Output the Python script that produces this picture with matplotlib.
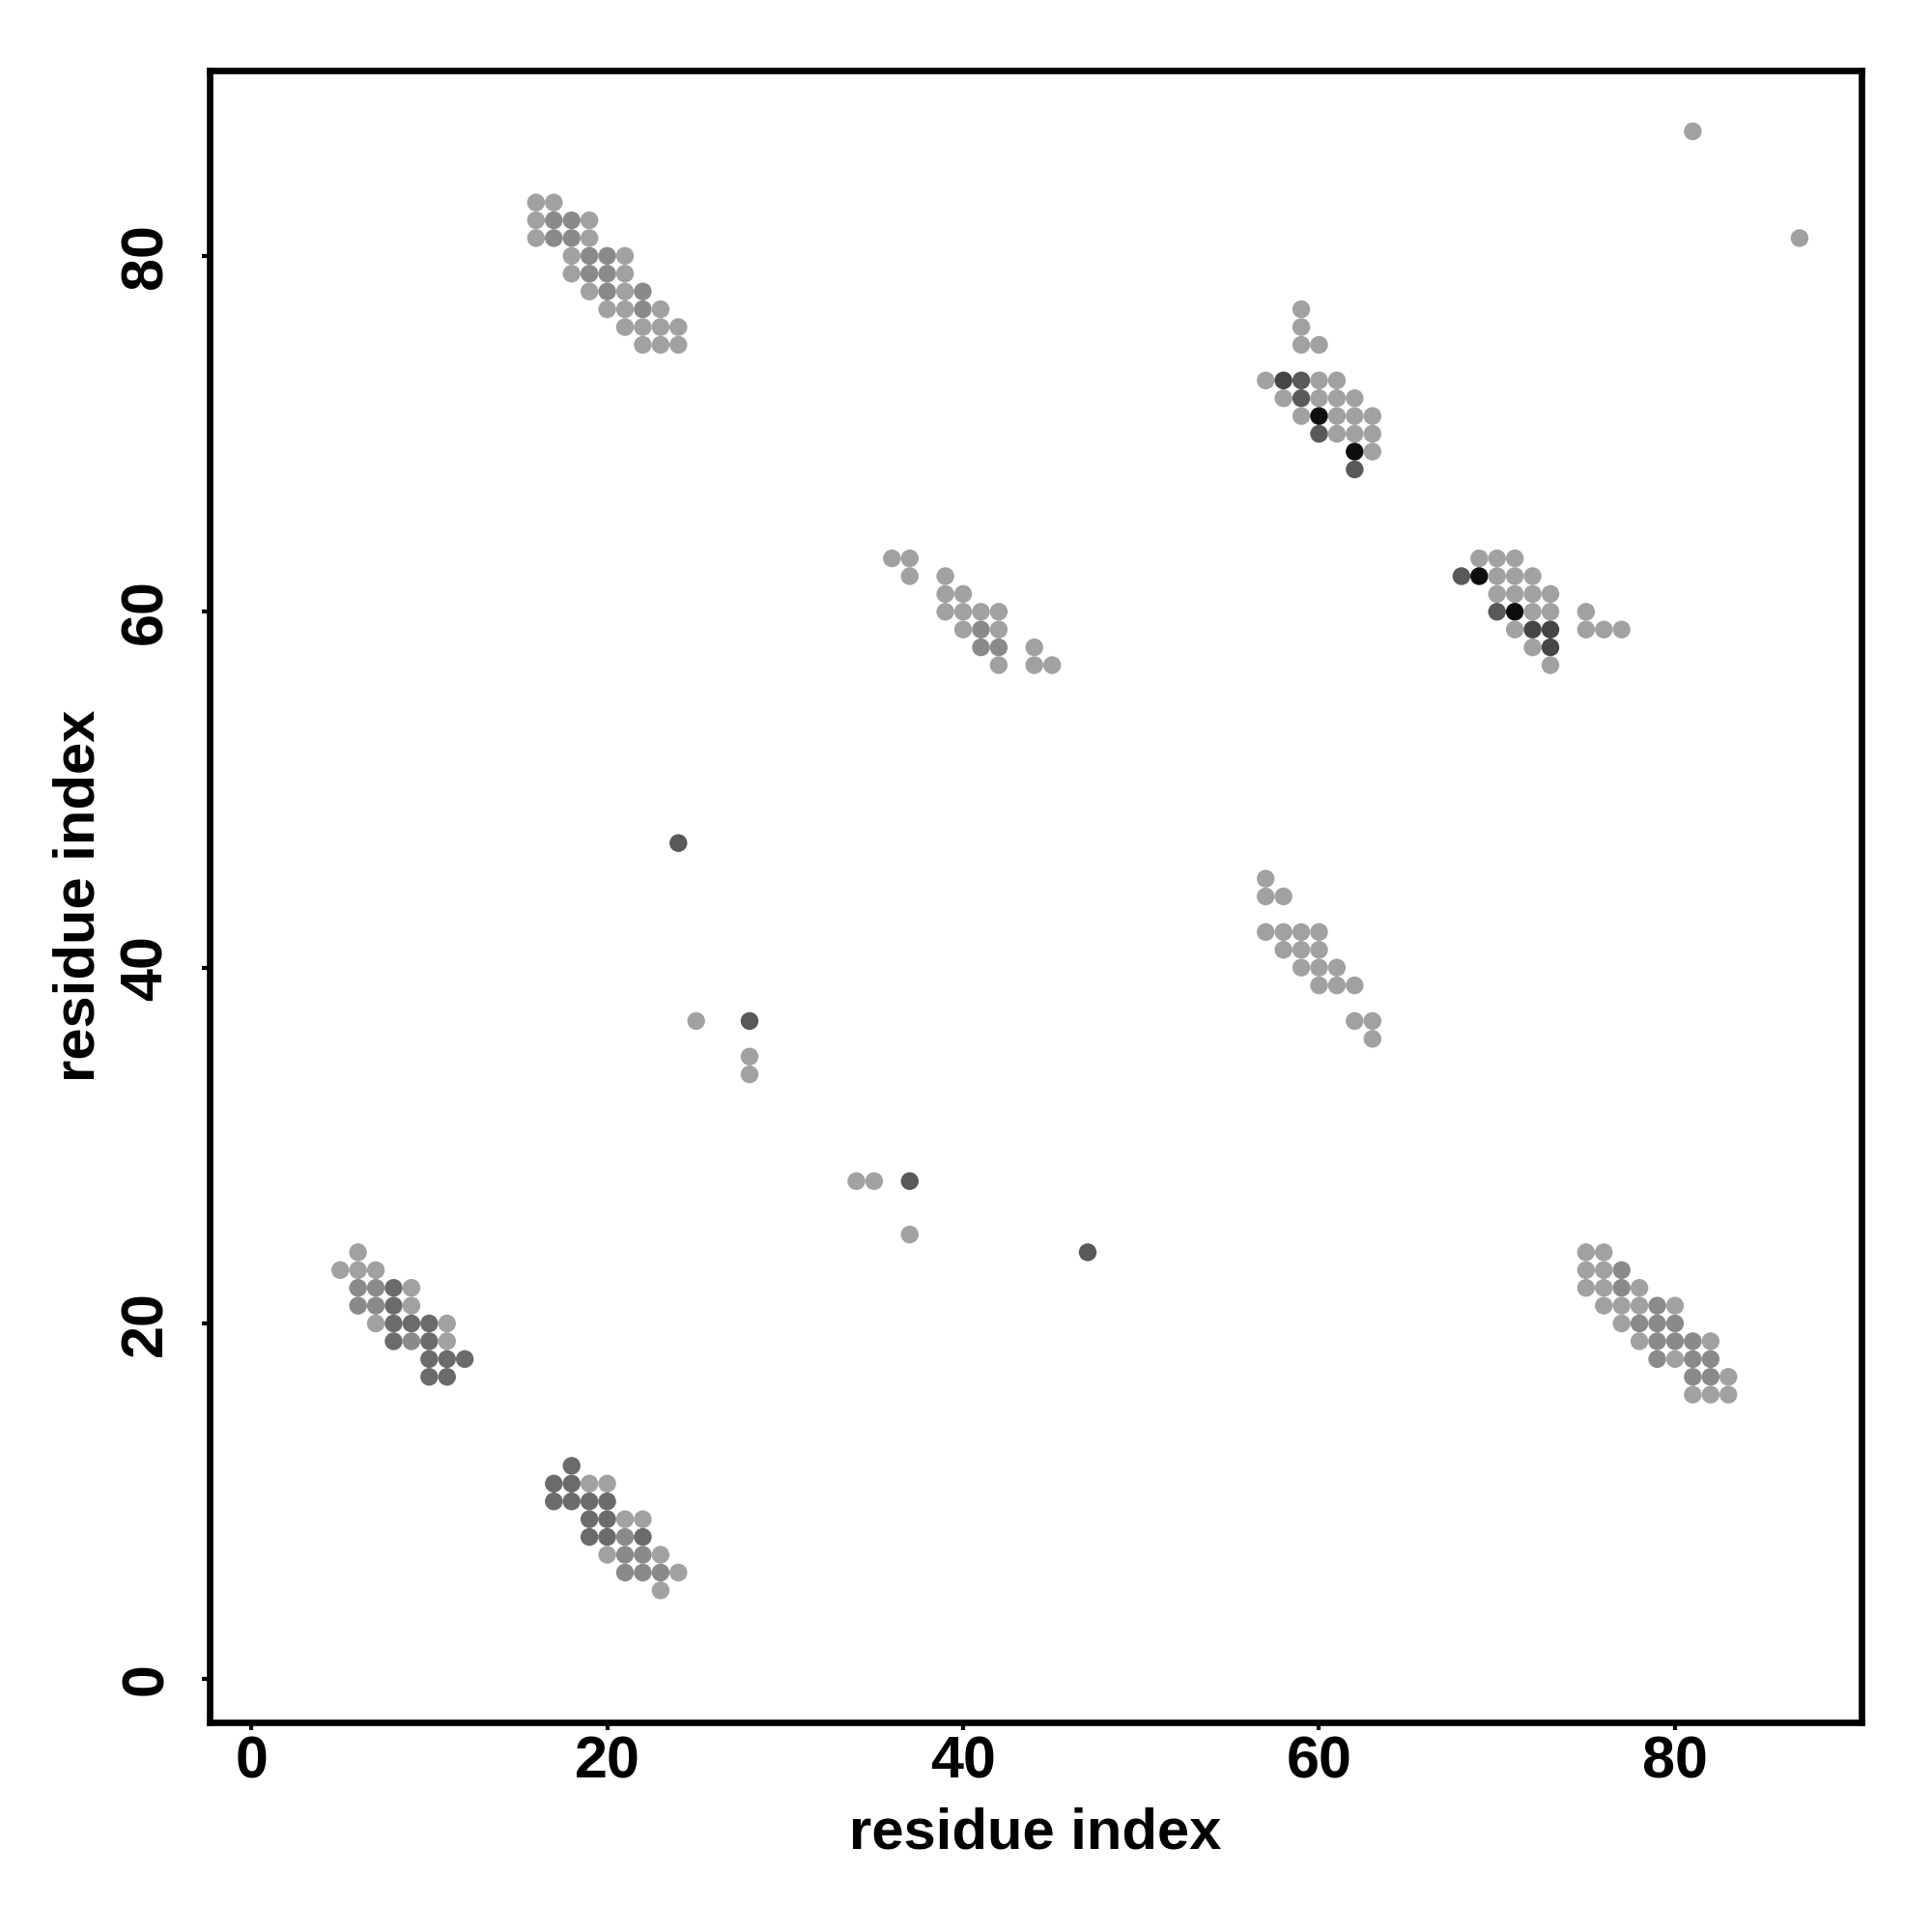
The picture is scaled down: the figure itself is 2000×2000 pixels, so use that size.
import matplotlib
matplotlib.use("Agg")
import matplotlib.pyplot as plt

plt.rcParams['font.family'] = ['Liberation Sans', 'DejaVu Sans']
plt.rcParams['font.weight'] = 'bold'

# contact positions (residue i, residue j) and shade level (1 = light ... 6 = black)
res_x = [
    # block 16-24 / 75-83
    16, 17,
    16, 17, 18, 19,
    16, 17, 18, 19,
    18, 19, 20, 21,
    18, 19, 20, 21,
    19, 20, 21, 22,
    20, 21, 22, 23,
    21, 22, 23, 24,
    22, 23, 24,
    # block 57-63 / 68-77
    59, 59, 59, 60,
    57, 58, 59, 60, 61,
    58, 59, 60, 61, 62,
    59, 60, 61, 62, 63,
    60, 61, 62, 63,
    62, 63,
    62,
    # block 36-45 / 57-63
    36, 37,
    37, 39,
    39, 40,
    39, 40, 41, 42,
    40, 41, 42,
    41, 42, 44,
    42, 44, 45,
    # block 68-77 / 57-63
    69, 70, 71,
    68, 69, 70, 71, 72,
    70, 71, 72, 73,
    70, 71, 72, 73, 75,
    71, 72, 73, 75, 76, 77,
    72, 73,
    73,
    # block 57-63 / 36-45
    57,
    57, 58,
    57, 58, 59, 60,
    58, 59, 60,
    59, 60, 61,
    60, 61, 62,
    62, 63,
    63,
    # block 5-12 / 17-24
    6,
    5, 6, 7,
    6, 7, 8, 9,
    6, 7, 8, 9,
    7, 8, 9, 10, 11,
    8, 9, 10, 11,
    10, 11, 12,
    10, 11,
    # block 17-24 / 5-12
    18,
    17, 18, 19, 20,
    17, 18, 19, 20,
    19, 20, 21, 22,
    19, 20, 21, 22,
    20, 21, 22, 23,
    21, 22, 23, 24,
    23,
    # block 75-83 / 16-24
    75, 76,
    75, 76, 77,
    75, 76, 77, 78,
    76, 77, 78, 79, 80,
    77, 78, 79, 80,
    78, 79, 80, 81, 82,
    79, 80, 81, 82,
    81, 82, 83,
    81, 82, 83,
    # isolated
    24, 25, 28, 28, 28, 34, 35, 37, 37, 47, 81, 87,
]

res_y = [
    83, 83,
    82, 82, 82, 82,
    81, 81, 81, 81,
    80, 80, 80, 80,
    79, 79, 79, 79,
    78, 78, 78, 78,
    77, 77, 77, 77,
    76, 76, 76, 76,
    75, 75, 75,
    77, 76, 75, 75,
    73, 73, 73, 73, 73,
    72, 72, 72, 72, 72,
    71, 71, 71, 71, 71,
    70, 70, 70, 70,
    69, 69,
    68,
    63, 63,
    62, 62,
    61, 61,
    60, 60, 60, 60,
    59, 59, 59,
    58, 58, 58,
    57, 57, 57,
    63, 63, 63,
    62, 62, 62, 62, 62,
    61, 61, 61, 61,
    60, 60, 60, 60, 60,
    59, 59, 59, 59, 59, 59,
    58, 58,
    57,
    45,
    44, 44,
    42, 42, 42, 42,
    41, 41, 41,
    40, 40, 40,
    39, 39, 39,
    37, 37,
    36,
    24,
    23, 23, 23,
    22, 22, 22, 22,
    21, 21, 21, 21,
    20, 20, 20, 20, 20,
    19, 19, 19, 19,
    18, 18, 18,
    17, 17,
    12,
    11, 11, 11, 11,
    10, 10, 10, 10,
    9, 9, 9, 9,
    8, 8, 8, 8,
    7, 7, 7, 7,
    6, 6, 6, 6,
    5,
    24, 24,
    23, 23, 23,
    22, 22, 22, 22,
    21, 21, 21, 21, 21,
    20, 20, 20, 20,
    19, 19, 19, 19, 19,
    18, 18, 18, 18,
    17, 17, 17,
    16, 16, 16,
    47, 37, 37, 35, 34, 28, 28, 28, 25, 24, 87, 81,
]

shade = [
    1, 1,
    1, 2, 2, 1,
    1, 2, 2, 1,
    1, 2, 2, 1,
    1, 2, 2, 1,
    1, 2, 1, 2,
    1, 1, 2, 1,
    1, 1, 1, 1,
    1, 1, 1,
    1, 1, 1, 1,
    1, 5, 4, 1, 1,
    1, 4, 1, 1, 1,
    1, 6, 1, 1, 1,
    4, 1, 1, 1,
    6, 1,
    4,
    1, 1,
    1, 1,
    1, 1,
    1, 1, 1, 1,
    1, 2, 1,
    2, 2, 1,
    1, 1, 1,
    1, 1, 1,
    4, 6, 1, 1, 1,
    1, 1, 1, 1,
    4, 6, 1, 1, 1,
    1, 5, 5, 1, 1, 1,
    1, 5,
    1,
    1,
    1, 1,
    1, 1, 1, 1,
    1, 1, 1,
    1, 1, 1,
    1, 1, 1,
    1, 1,
    1,
    1,
    1, 1, 1,
    2, 2, 3, 1,
    2, 2, 3, 1,
    1, 3, 3, 3, 1,
    3, 2, 3, 1,
    3, 3, 3,
    3, 3,
    3,
    3, 3, 1, 1,
    3, 3, 3, 3,
    3, 3, 1, 1,
    3, 3, 2, 3,
    1, 2, 2, 1,
    2, 2, 2, 1,
    1,
    1, 1,
    1, 1, 2,
    1, 1, 2, 1,
    1, 1, 1, 2, 1,
    1, 2, 2, 2,
    1, 2, 2, 2, 1,
    2, 1, 2, 2,
    2, 2, 1,
    1, 1, 1,
    4, 1, 4, 1, 1, 1, 1, 4, 1, 4, 1, 1,
]

grey = {1: '#a1a1a1', 2: '#8a8a8a', 3: '#6b6b6b', 4: '#595959', 5: '#454545', 6: '#0d0d0d'}
colors = [grey[s] for s in shade]

fig = plt.figure(figsize=(10, 10), dpi=200)
ax = fig.add_axes([0.1084, 0.1085, 0.8553, 0.8552])

ax.scatter(res_x, res_y, s=44, c=colors, edgecolors='none', zorder=3)

ax.set_xlim(-2.35, 90.5)
ax.set_ylim(-2.42, 90.44)
ax.set_xticks([0, 20, 40, 60, 80])
ax.set_yticks([0, 20, 40, 60, 80])

for sp in ax.spines.values():
    sp.set_linewidth(2.4)

ax.tick_params(axis='both', length=3, width=1.5, labelsize=22)
ax.tick_params(axis='x', pad=2)
ax.tick_params(axis='y', pad=10)
for lab in ax.get_yticklabels():
    lab.set_rotation(90)
    lab.set_va('center')
    lab.set_fontweight('bold')
for lab in ax.get_xticklabels():
    lab.set_fontweight('bold')

ax.set_xlabel("residue index", fontsize=21.5, fontweight='bold', labelpad=6)
ax.set_ylabel("residue index", fontsize=21.5, fontweight='bold', labelpad=5)

fig.savefig("out.png", dpi=200, facecolor='white')
